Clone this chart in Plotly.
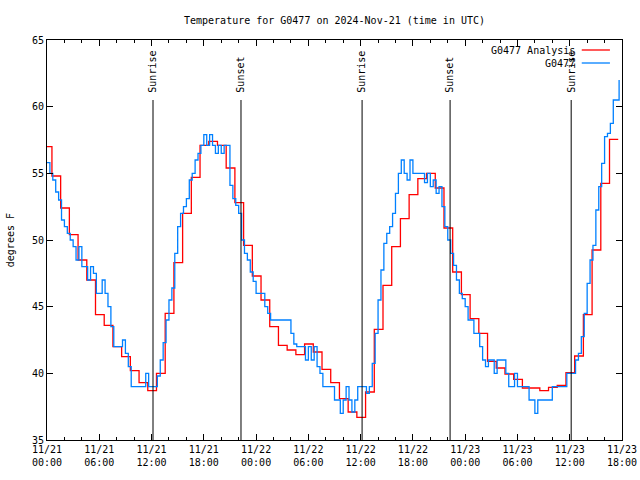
import pandas as pd
import plotly.graph_objects as go

# ---------------- data ----------------
red_start = "2024-11-20 23:34"   # analysis, hourly steps
red_vals = [57.0, 54.8, 52.4, 50.4, 48.5, 47.0, 44.4, 43.6, 42.0, 41.25,
            40.2, 39.3, 38.7, 40.0, 44.5, 48.3, 52.0, 54.7, 57.1, 57.4,
            57.1, 55.4, 52.8, 49.6, 47.3, 45.5, 43.5, 42.1, 41.75, 41.4,
            42.2, 41.6, 40.3, 39.3, 38.1, 37.1, 36.7, 38.6, 43.3, 46.6,
            49.5, 51.6, 53.4, 54.6, 55.0, 53.9, 50.9, 47.6, 45.9, 44.1,
            43.0, 40.9, 40.4, 39.95, 39.55, 38.9, 38.9, 38.7, 38.95, 39.1,
            40.05, 41.3, 44.4, 49.25, 54.25, 57.55, 57.55]

blue_start = "2024-11-21 00:00"  # observations, 20-minute steps
blue_vals = [55.8, 55.0, 54.5, 53.6, 53.0, 51.5, 51.0, 50.5, 50.0, 49.5,
             48.5, 49.5, 48.0, 48.0, 47.0, 48.0, 47.5, 46.0, 46.0, 47.0,
             46.0, 45.0, 43.5, 42.0, 42.0, 42.0, 42.5, 41.5, 40.5, 39.0,
             39.0, 39.0, 39.0, 39.0, 40.0, 39.0, 39.0, 39.0, 39.8, 41.0,
             42.3, 44.0, 45.5, 46.4, 49.0, 51.0, 52.0, 52.5, 53.1, 54.5,
             55.0, 56.0, 56.5, 57.1, 57.9, 57.1, 57.9, 57.1, 56.5, 57.1,
             56.5, 57.1, 57.1, 54.1, 53.1, 52.6, 52.0, 50.0, 49.0, 48.5,
             47.6, 46.9, 46.0, 46.0, 46.0, 45.0, 44.5, 44.0, 44.0, 44.0,
             44.0, 44.0, 44.0, 44.0, 43.0, 42.2, 42.0, 42.0, 42.0, 41.0,
             42.0, 41.0, 42.0, 40.5, 40.0, 39.0, 39.0, 39.0, 39.0, 38.0,
             38.0, 37.0, 38.0, 39.0, 38.0, 37.1, 38.0, 39.0, 39.0, 39.0,
             38.5, 39.0, 40.75, 43.0, 45.5, 47.75, 49.75, 50.5, 51.0, 52.0,
             53.5, 55.0, 56.0, 55.0, 54.5, 56.0, 55.0, 55.0, 55.0, 55.0,
             54.3, 55.0, 54.0, 54.5, 53.5, 54.0, 52.5, 51.0, 50.0, 49.0,
             48.1, 47.0, 46.0, 45.6, 45.0, 44.0, 44.0, 43.0, 43.0, 42.0,
             41.0, 40.5, 41.0, 41.0, 40.0, 41.0, 41.0, 41.0, 40.0, 39.0,
             39.0, 40.0, 39.0, 39.0, 39.0, 39.0, 38.0, 38.0, 37.0, 38.0,
             38.0, 38.0, 38.0, 38.0, 39.0, 39.0, 39.0, 39.0, 39.0, 40.0,
             40.0, 40.0, 41.0, 41.5, 42.75, 44.5, 46.75, 48.5, 49.6, 52.25,
             54.0, 55.75, 57.75, 58.0, 58.75, 60.5, 60.5, 62.0]

sun_events = ["Sunrise", "Sunset", "Sunrise", "Sunset", "Sunrise"]
sun_times = ["2024-11-21 12:10", "2024-11-21 22:16", "2024-11-22 12:10",
             "2024-11-22 22:16", "2024-11-23 12:10"]

tick_times = pd.date_range("2024-11-21 00:00", "2024-11-23 18:00", freq="6h")
tick_labels = [t.strftime("%m/%d<br>%H:%M") for t in tick_times]

title = "Temperature for G0477 on 2024-Nov-21 (time in UTC)"
ylabel = "degrees F"
name_red = "G0477 Analysis"
name_blue = "G0477"

# ---------------- figure ----------------
red_t = pd.date_range(red_start, periods=len(red_vals), freq="1h")
blue_t = pd.date_range(blue_start, periods=len(blue_vals), freq="20min")

FONT = "DejaVu Sans Mono"
RED = "#ff0000"
BLUE = "#0080ff"
W, H = 640, 480

fig = go.Figure()
fig.add_trace(go.Scatter(x=red_t, y=red_vals, mode="lines", name=name_red,
                         line=dict(color=RED, width=1.3, shape="hv")))
fig.add_trace(go.Scatter(x=blue_t, y=blue_vals, mode="lines", name=name_blue,
                         line=dict(color=BLUE, width=1.3, shape="hv")))

shapes = []
annotations = []
for ev, t in zip(sun_events, sun_times):
    shapes.append(dict(type="line", xref="x", yref="y", x0=t, x1=t,
                       y0=35, y1=60.5, line=dict(color="black", width=1)))
    annotations.append(dict(x=t, y=60.9, xref="x", yref="y", text=ev,
                            textangle=-90, showarrow=False, xanchor="center",
                            yanchor="bottom", font=dict(family=FONT, size=10, color="black")))

# legend drawn gnuplot-style (text right-aligned, sample on the right)
for i, (nm, col) in enumerate([(name_red, RED), (name_blue, BLUE)]):
    yp = 0.975 - i * 0.0325
    annotations.append(dict(x=0.922, y=yp, xref="paper", yref="paper", text=nm,
                            showarrow=False, xanchor="right", yanchor="middle",
                            font=dict(family=FONT, size=10, color="black")))
    shapes.append(dict(type="line", xref="paper", yref="paper", x0=0.930, x1=0.979,
                       y0=yp, y1=yp, line=dict(color=col, width=1.3)))

annotations.append(dict(x=-0.064, y=0.5, xref="paper", yref="paper", text=ylabel,
                        textangle=-90, showarrow=False, xanchor="center", yanchor="middle",
                        font=dict(family=FONT, size=10, color="black")))

fig.update_layout(
    width=W, height=H,
    margin=dict(l=47, r=18, t=40, b=40),
    paper_bgcolor="white", plot_bgcolor="white",
    showlegend=False,
    title=dict(text=title, x=0.5, xref="paper", y=1 - 20 / H, yanchor="middle",
               font=dict(family=FONT, size=10, color="black")),
    font=dict(family=FONT, size=10, color="black"),
    shapes=shapes, annotations=annotations,
)
fig.update_xaxes(
    type="date", range=["2024-11-21 00:00", "2024-11-23 18:00"], automargin=False,
    tickmode="array", tickvals=tick_times, ticktext=tick_labels, ticklabeloverflow="allow",
    ticks="inside", ticklen=6, tickcolor="black", showgrid=False, zeroline=False,
    showline=True, linecolor="black", linewidth=1, mirror="ticks",
    tickfont=dict(family=FONT, size=10, color="black"),
    minor=dict(dtick=2 * 3600 * 1000, ticks="inside", ticklen=3, tickcolor="black", showgrid=False),
)
fig.update_yaxes(
    range=[35, 65], dtick=5, tick0=35, automargin=False,
    ticks="inside", ticklen=6, tickcolor="black", showgrid=False, zeroline=False,
    showline=True, linecolor="black", linewidth=1, mirror="ticks",
    tickfont=dict(family=FONT, size=10, color="black"),
)

fig.write_html("out.html", config={"displayModeBar": False},
               post_script="document.body.style.margin='0px';document.body.style.overflow='hidden';")
